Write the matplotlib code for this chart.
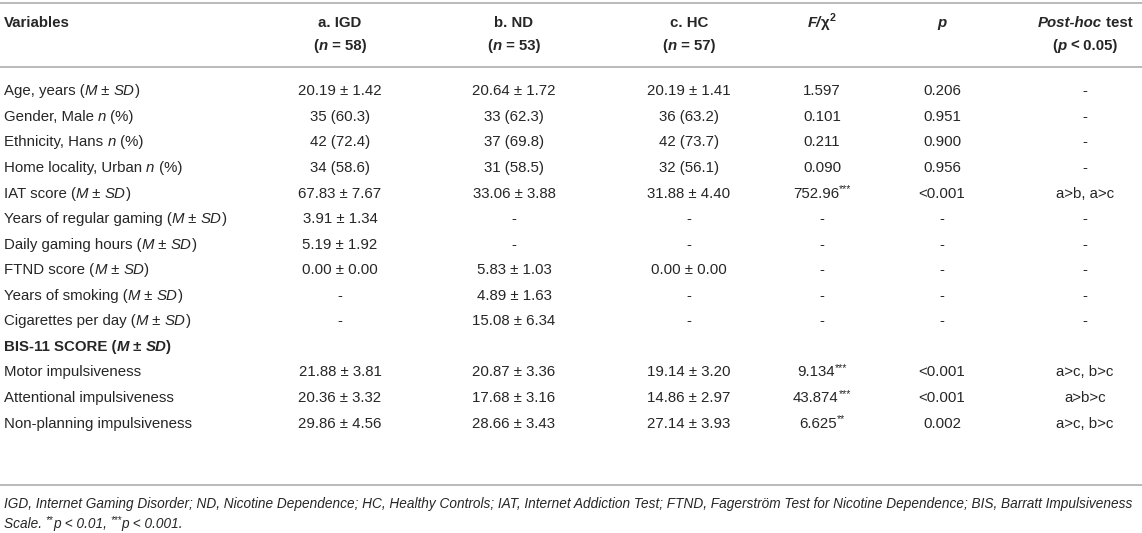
import matplotlib
matplotlib.use("Agg")
import matplotlib.pyplot as plt

# ---------------- data ----------------
variables = [
    [("Age, years (", "n"), ("M", "i"), (" ± ", "n"), ("SD", "i"), (")", "n")],
    [("Gender, Male ", "n"), ("n", "i"), (" (%)", "n")],
    [("Ethnicity, Hans ", "n"), ("n", "i"), (" (%)", "n")],
    [("Home locality, Urban ", "n"), ("n", "i"), (" (%)", "n")],
    [("IAT score (", "n"), ("M", "i"), (" ± ", "n"), ("SD", "i"), (")", "n")],
    [("Years of regular gaming (", "n"), ("M", "i"), (" ± ", "n"), ("SD", "i"), (")", "n")],
    [("Daily gaming hours (", "n"), ("M", "i"), (" ± ", "n"), ("SD", "i"), (")", "n")],
    [("FTND score (", "n"), ("M", "i"), (" ± ", "n"), ("SD", "i"), (")", "n")],
    [("Years of smoking (", "n"), ("M", "i"), (" ± ", "n"), ("SD", "i"), (")", "n")],
    [("Cigarettes per day (", "n"), ("M", "i"), (" ± ", "n"), ("SD", "i"), (")", "n")],
    [("BIS-11 SCORE (", "b"), ("M", "bi"), (" ± ", "b"), ("SD", "bi"), (")", "b")],
    [("Motor impulsiveness", "n")],
    [("Attentional impulsiveness", "n")],
    [("Non-planning impulsiveness", "n")],
]
igd = ["20.19 ± 1.42", "35 (60.3)", "42 (72.4)", "34 (58.6)", "67.83 ± 7.67",
       "3.91 ± 1.34", "5.19 ± 1.92", "0.00 ± 0.00", "-", "-", "",
       "21.88 ± 3.81", "20.36 ± 3.32", "29.86 ± 4.56"]
nd = ["20.64 ± 1.72", "33 (62.3)", "37 (69.8)", "31 (58.5)", "33.06 ± 3.88",
      "-", "-", "5.83 ± 1.03", "4.89 ± 1.63", "15.08 ± 6.34", "",
      "20.87 ± 3.36", "17.68 ± 3.16", "28.66 ± 3.43"]
hc = ["20.19 ± 1.41", "36 (63.2)", "42 (73.7)", "32 (56.1)", "31.88 ± 4.40",
      "-", "-", "0.00 ± 0.00", "-", "-", "",
      "19.14 ± 3.20", "14.86 ± 2.97", "27.14 ± 3.93"]
f_chi = ["1.597", "0.101", "0.211", "0.090", "752.96", "-", "-", "-", "-", "-", "",
         "9.134", "43.874", "6.625"]
f_stars = ["", "", "", "", "***", "", "", "", "", "", "", "***", "***", "**"]
p_vals = ["0.206", "0.951", "0.900", "0.956", "<0.001", "-", "-", "-", "-", "-", "",
          "<0.001", "<0.001", "0.002"]
posthoc = ["-", "-", "-", "-", "a>b, a>c", "-", "-", "-", "-", "-", "",
           "a>c, b>c", "a>b>c", "a>c, b>c"]

footnote1 = ("IGD, Internet Gaming Disorder; ND, Nicotine Dependence; HC, Healthy Controls; "
             "IAT, Internet Addiction Test; FTND, Fagerström Test for Nicotine Dependence; "
             "BIS, Barratt Impulsiveness")

# ---------------- layout ----------------
W, H = 1142, 533
FONT = "Liberation Sans"
FS = 10.8
COL = "#262626"
LINE = "#b4b4b4"

fig = plt.figure(figsize=(W / 100, H / 100), dpi=100)
ax = fig.add_axes([0, 0, 1, 1])
ax.set_xlim(0, W)
ax.set_ylim(H, 0)
ax.axis("off")
fig.canvas.draw()
renderer = fig.canvas.get_renderer()


def style_kw(st):
    return dict(fontstyle="italic" if "i" in st else "normal",
                fontweight="bold" if "b" in st else "normal")


def rich(x, y, segs, ha="left", fs=FS):
    """segs: list of (text, style[, scale, dy]); y is the visual centre of caps."""
    base = y + 0.358 * fs * 100 / 72
    items = []
    total = 0.0
    for s in segs:
        txt, st = s[0], s[1]
        scale = s[2] if len(s) > 2 else 1.0
        dy = s[3] if len(s) > 3 else 0.0
        t = ax.text(0, 0, txt, fontsize=fs * scale, family=FONT, **style_kw(st))
        w = t.get_window_extent(renderer).width
        t.remove()
        items.append((txt, st, scale, dy, w))
        total += w
    if ha == "center":
        cx = x - total / 2
    elif ha == "right":
        cx = x - total
    else:
        cx = x
    for txt, st, scale, dy, w in items:
        ax.text(cx, base + dy, txt, fontsize=fs * scale, family=FONT, color=COL,
                va="baseline", ha="left", **style_kw(st))
        cx += w


cx_var = 4
cx_cols = [340, 514, 689, 822, 942, 1085]

# rules
ax.plot([0, W], [3, 3], color=LINE, lw=1.3)
ax.plot([0, W], [67, 67], color=LINE, lw=1.3)
ax.plot([0, W], [485, 485], color=LINE, lw=1.3)

# header
hy1, hy2 = 22, 45
rich(cx_var, hy1, [("Variables", "b")])
rich(cx_cols[0], hy1, [("a. IGD", "b")], ha="center")
rich(cx_cols[0], hy2, [("(", "b"), ("n", "bi"), (" = 58)", "b")], ha="center")
rich(cx_cols[1], hy1, [("b. ND", "b")], ha="center")
rich(cx_cols[1], hy2, [("(", "b"), ("n", "bi"), (" = 53)", "b")], ha="center")
rich(cx_cols[2], hy1, [("c. HC", "b")], ha="center")
rich(cx_cols[2], hy2, [("(", "b"), ("n", "bi"), (" = 57)", "b")], ha="center")
rich(cx_cols[3], hy1, [("F/", "bi"), ("χ", "b"), ("2", "b", 0.72, -6)], ha="center")
rich(cx_cols[4], hy1, [("p", "bi")], ha="center")
rich(cx_cols[5], hy1, [("Post-hoc", "bi"), (" test", "b")], ha="center")
rich(cx_cols[5], hy2, [("(", "b"), ("p", "bi"), (" ", "b"), ("<", "b"), (" 0.05)", "b")],
     ha="center")

# body
y0, dy = 90, 25.55
for i in range(len(variables)):
    y = y0 + i * dy
    rich(cx_var, y, variables[i])
    for c, vals in enumerate([igd, nd, hc]):
        if vals[i]:
            rich(cx_cols[c], y, [(vals[i], "n")], ha="center")
    if f_chi[i]:
        segs = [(f_chi[i], "n")]
        if f_stars[i]:
            segs.append((f_stars[i], "n", 0.7, -5))
        rich(cx_cols[3], y, segs, ha="center")
    if p_vals[i]:
        rich(cx_cols[4], y, [(p_vals[i], "n")], ha="center")
    if posthoc[i]:
        rich(cx_cols[5], y, [(posthoc[i], "n")], ha="center")

# footnote
FS2 = 9.85
rich(cx_var, 503, [(footnote1, "i")], fs=FS2)
rich(cx_var, 523, [("Scale. ", "i"), ("**", "i", 0.7, -5), ("p", "i"), (" < 0.01, ", "i"),
                   ("***", "i", 0.7, -5), ("p", "i"), (" < 0.001.", "i")], fs=FS2)

fig.savefig("out.png", dpi=100, facecolor="white")
